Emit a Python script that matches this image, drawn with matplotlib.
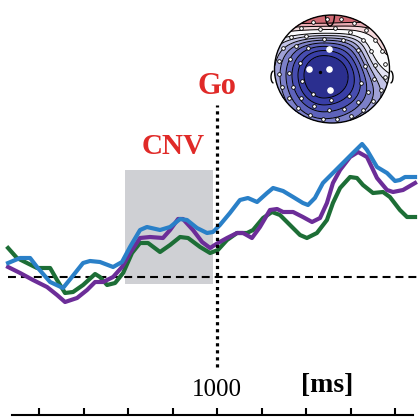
import numpy as np
import matplotlib
matplotlib.use("Agg")
import matplotlib.pyplot as plt
from matplotlib.colors import ListedColormap, BoundaryNorm
from matplotlib.patches import Rectangle, Ellipse, Arc

# grand-average waveforms (time in ms, amplitude in uV)
t_blue = [61, 115, 160, 191, 250, 308, 348, 398, 429, 474, 533, 573, 609, 654, 685,
          744, 789, 834, 865, 910, 955, 982, 1013, 1058, 1103, 1139, 1180, 1225, 1252,
          1297, 1342, 1386, 1409, 1440, 1476, 1521, 1566, 1611, 1652, 1674, 1719, 1764,
          1800, 1822, 1845, 1890]
v_blue = [0.70, 0.95, 0.95, 0.50, -0.25, -0.55, 0.0, 0.70, 0.80, 0.75, 0.50, 0.75, 1.50,
          2.35, 2.50, 2.35, 2.50, 2.90, 2.85, 2.45, 2.20, 2.25, 2.60, 3.20, 3.85, 3.95,
          3.75, 4.20, 4.45, 4.30, 4.00, 3.70, 3.60, 3.95, 4.70, 5.20, 5.70, 6.20, 6.65,
          6.35, 5.50, 5.20, 4.80, 4.85, 5.00, 5.00]

t_purple = [61, 115, 173, 236, 281, 317, 371, 416, 452, 488, 533, 573, 609, 654, 699,
            757, 789, 825, 847, 892, 933, 969, 1004, 1045, 1090, 1117, 1157, 1193, 1238,
            1270, 1297, 1342, 1386, 1427, 1463, 1494, 1521, 1553, 1598, 1634, 1674, 1719,
            1764, 1791, 1836, 1890]
v_purple = [0.50, 0.20, -0.15, -0.50, -0.90, -1.25, -1.05, -0.65, -0.25, -0.25, 0.0, 0.50,
            1.20, 1.95, 2.00, 1.95, 2.35, 2.90, 2.90, 2.35, 1.75, 1.45, 1.70, 1.95, 2.20,
            2.20, 1.95, 2.50, 3.35, 3.40, 3.25, 3.25, 3.00, 2.75, 2.95, 3.70, 4.70, 5.35,
            6.00, 6.25, 6.00, 4.95, 4.35, 4.25, 4.35, 4.70]

t_green = [61, 101, 146, 191, 250, 281, 317, 353, 398, 452, 474, 506, 542, 578, 618, 654,
           690, 744, 789, 834, 870, 924, 969, 1004, 1045, 1090, 1135, 1162, 1207, 1247,
           1283, 1328, 1373, 1404, 1449, 1494, 1521, 1553, 1598, 1629, 1656, 1701, 1746,
           1777, 1822, 1854, 1890]
v_green = [1.45, 0.95, 0.70, 0.45, 0.45, -0.15, -0.80, -0.75, -0.40, 0.15, 0.0, -0.40,
           -0.30, 0.20, 1.20, 1.70, 1.70, 1.25, 1.60, 2.00, 1.95, 1.50, 1.20, 1.35, 1.85,
           2.20, 2.20, 2.35, 2.95, 3.25, 3.10, 2.60, 2.10, 1.95, 2.20, 2.85, 3.70, 4.45,
           5.00, 4.95, 4.60, 4.20, 4.25, 4.00, 3.35, 3.00, 3.00]

x_ticks = [200, 400, 600, 800, 1000, 1200, 1400, 1600, 1800]
cnv_window = (587, 982)
go_time = 1000

serif = "Liberation Serif"
red = "#e02a28"

fig = plt.figure(figsize=(4.18, 4.18), dpi=100)
ax = fig.add_axes([0, 3 / 418, 1, 415 / 418])
ax.set_xlim(24.7, 1903.3)
ax.set_ylim(-6.9, 13.85)

for s in ["top", "left", "right"]:
    ax.spines[s].set_visible(False)
ax.spines["bottom"].set_linewidth(1.5)
ax.spines["bottom"].set_bounds(79, 1881)
ax.set_yticks([])
ax.set_xticks(x_ticks)
ax.set_xticklabels([])
ax.tick_params(axis="x", direction="in", length=5, width=1.5)

# CNV window
ax.add_patch(Rectangle((cnv_window[0], -0.35), cnv_window[1] - cnv_window[0], 5.7,
                       facecolor="#cfd0d4", edgecolor="none", zorder=1))

ax.plot([61, 1903], [0, 0], color="black", lw=1.5, dashes=(3.8, 2.4), zorder=2)

ax.plot(t_green, v_green, color="#1d6e36", lw=3, zorder=3, solid_joinstyle="round")
ax.plot(t_purple, v_purple, color="#6c2d98", lw=3, zorder=4, solid_joinstyle="round")
ax.plot(t_blue, v_blue, color="#2a80c8", lw=3, zorder=5, solid_joinstyle="round")

ax.plot([go_time, go_time], [-4.5, 8.6], color="black", lw=2.3, dashes=(1, 1.2), zorder=6)

ax.text(go_time, 9.5, "Go", color=red, fontsize=22, fontweight="bold", family=serif,
        ha="center", va="center")
ax.text(804, 6.55, "CNV", color=red, fontsize=21, fontweight="bold", family=serif,
        ha="center", va="center")
ax.text(go_time, -5.65, "1000", fontsize=18, family=serif, ha="center", va="center")
ax.text(1494, -5.4, "[ms]", fontsize=20, fontweight="bold", family=serif,
        ha="center", va="center")

# scalp topography inset (drawn in pixel-like units, y pointing down)
hx = fig.add_axes([262 / 418, 1 - 130 / 418, 135 / 418, 130 / 418])
hx.set_xlim(262, 397)
hx.set_ylim(130, 0)
hx.axis("off")
cx, cy, rx, ry = 332, 69, 57.5, 54
px0, py0 = 324, 75  # peak of the negativity

gx, gy = np.meshgrid(np.linspace(cx - rx, cx + rx, 300), np.linspace(cy - ry, cy + ry, 300))
sx = np.where(gx < px0, 1.0, 1.3)
sy = np.where(gy < py0, 1.0, 1.15)
field = np.sqrt(((gx - px0) / sx) ** 2 + ((gy - py0) / sy) ** 2)
field = field + 90 * np.exp(-((gy - 10) / 20) ** 2) * np.exp(-((gx - 320) / 75) ** 2)
field = field + 28 * np.exp(-((gx - 385) / 25) ** 2 - ((gy - 50) / 30) ** 2)
inside = ((gx - cx) / rx) ** 2 + ((gy - cy) / ry) ** 2 <= 1
field = np.ma.masked_where(~inside, field)

bounds = [0, 20, 26, 32, 38, 44, 50, 57, 65, 80, 95, 110, 500]
band_colors = ["#2b2f8f", "#383ea6", "#474db0", "#5e63bb", "#7c80c8", "#9fa1d6",
               "#c2c3e6", "#e2e2f2", "#fbfbfd", "#f4d8db", "#e8aab2", "#d06a74"]
cmap = ListedColormap(band_colors)
norm = BoundaryNorm(bounds, cmap.N)
hx.contourf(gx, gy, field, levels=bounds, cmap=cmap, norm=norm)
hx.contour(gx, gy, field, levels=bounds[1:-1], colors="black", linewidths=0.7,
           linestyles="solid")
hx.add_patch(Ellipse((cx, cy), 2 * rx, 2 * ry, facecolor="none", edgecolor="black", lw=1.0))
hx.add_patch(Arc((330, 15), 9, 22, theta1=0, theta2=180, color="black", lw=1.0))
hx.add_patch(Arc((cx - rx - 1, 77), 5, 12, theta1=90, theta2=270, color="black", lw=1.0))
hx.add_patch(Arc((cx + rx + 1, 77), 5, 12, theta1=-90, theta2=90, color="black", lw=1.0))

# electrode positions
ring_r = [0.93, 0.76, 0.57]
ring_n = [24, 18, 11]
ex, ey = [], []
for r, n in zip(ring_r, ring_n):
    ang = np.linspace(0, 2 * np.pi, n, endpoint=False) + 0.1
    ex += list(cx + r * rx * np.cos(ang))
    ey += list(cy - r * ry * np.sin(ang))
hx.scatter(ex, ey, s=7, facecolor="white", edgecolor="black", linewidths=0.6, zorder=5)
hx.scatter([329, 309, 329, 330], [49, 69, 69, 90], s=14, color="white", zorder=6)
hx.scatter([320], [72], s=2, color="black", zorder=6)

fig.savefig("out.png", dpi=100)
